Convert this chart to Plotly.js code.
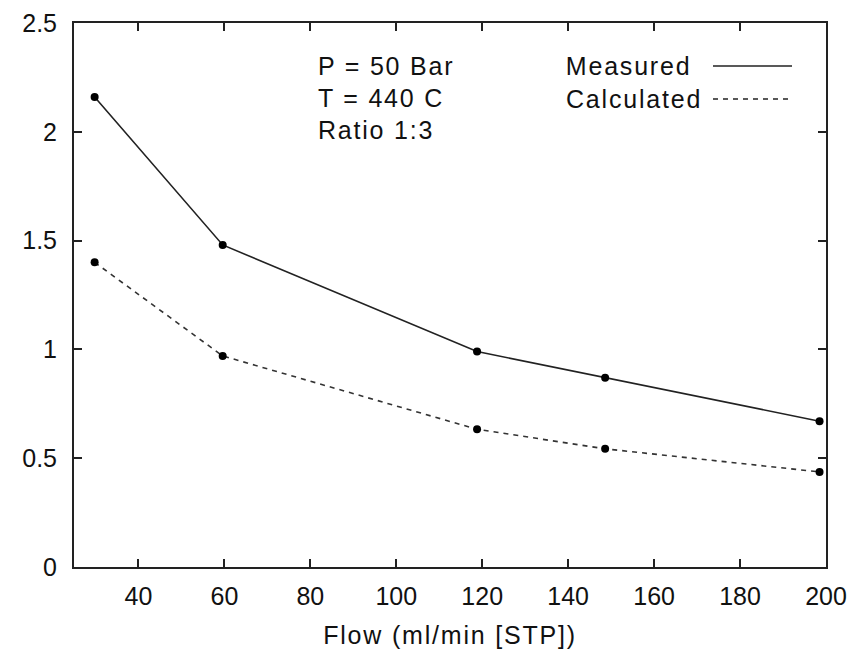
<!DOCTYPE html>
<html>
<head>
<meta charset="utf-8">
<script src="https://cdn.plot.ly/plotly-3.0.1.min.js"></script>
<style>
html,body{margin:0;padding:0;background:#fff;}
#chart{width:857px;height:653px;}
#chart .annotation-text, #chart .xtitle {letter-spacing:1.8px;}
</style>
</head>
<body>
<div id="chart"></div>
<script>
const flow = [29.8, 59.6, 118.8, 148.6, 198.5];
const measured = [2.16, 1.48, 0.99, 0.87, 0.67];
const calculated = [1.40, 0.97, 0.633, 0.543, 0.437];
const xTicks = [40, 60, 80, 100, 120, 140, 160, 180, 200];
const yTicks = [0, 0.5, 1, 1.5, 2, 2.5];
const yTickText = ["0", "0.5", "1", "1.5", "2", "2.5"];
const infoLines = ["P = 50 Bar", "T = 440 C", "Ratio 1:3"];
const seriesNames = ["Measured", "Calculated"];

const font = {family: "Liberation Sans, Arial, sans-serif", size: 25, color: "#111"};

const traces = [
  {x: flow, y: measured, name: seriesNames[0], mode: "lines+markers",
   line: {color: "#222", width: 1.6}, marker: {color: "#000", size: 8}},
  {x: flow, y: calculated, name: seriesNames[1], mode: "lines+markers",
   line: {color: "#333", width: 1.6, dash: "5px,5px"}, marker: {color: "#000", size: 8}}
];

const plotL = 74, plotR = 826, plotT = 23, plotB = 567;
const W = 857, H = 653;
function px(x) { return (x - plotL) / (plotR - plotL); }
function py(y) { return (plotB - y) / (plotB - plotT); }
// compensate half of the extra CSS letter-spacing width for left-anchored text
function shiftFor(t) { return t.length * 0.9; }

const annotations = [];
infoLines.forEach((t, i) => {
  annotations.push({xref: "paper", yref: "paper", x: px(316), y: py(66 + i * 32),
    xanchor: "left", yanchor: "middle", xshift: shiftFor(t), text: t, showarrow: false, font: font});
});
const legY = [66, 99];
const shapes = [];
seriesNames.forEach((n, i) => {
  annotations.push({xref: "paper", yref: "paper", x: px(564), y: py(legY[i]),
    xanchor: "left", yanchor: "middle", xshift: shiftFor(n), text: n, showarrow: false, font: font});
  shapes.push({type: "line", xref: "paper", yref: "paper",
    x0: px(713), x1: px(i === 0 ? 792 : 788), y0: py(legY[i]), y1: py(legY[i]),
    line: {color: "#222", width: 1.6, dash: i === 0 ? "solid" : "5px,5px"}});
});

const axisCommon = {
  showgrid: false, zeroline: false, showline: true, linecolor: "#222", linewidth: 2,
  mirror: "ticks", ticks: "inside", ticklen: 8, tickwidth: 2, tickcolor: "#222",
  tickfont: font
};

const layout = {
  width: W, height: H,
  margin: {l: plotL, r: W - plotR, t: plotT, b: H - plotB},
  paper_bgcolor: "#fff", plot_bgcolor: "#fff",
  showlegend: false,
  font: font,
  xaxis: Object.assign({}, axisCommon, {range: [25, 200], tickvals: xTicks,
    ticktext: xTicks.map(String), ticklabelstandoff: 6,
    title: {text: "Flow (ml/min [STP])", font: font, standoff: 17}}),
  yaxis: Object.assign({}, axisCommon, {range: [0, 2.5], tickvals: yTicks,
    ticktext: yTickText, ticklabelstandoff: 10}),
  annotations: annotations,
  shapes: shapes
};

Plotly.newPlot("chart", traces, layout, {displayModeBar: false, staticPlot: true});
</script>
</body>
</html>
